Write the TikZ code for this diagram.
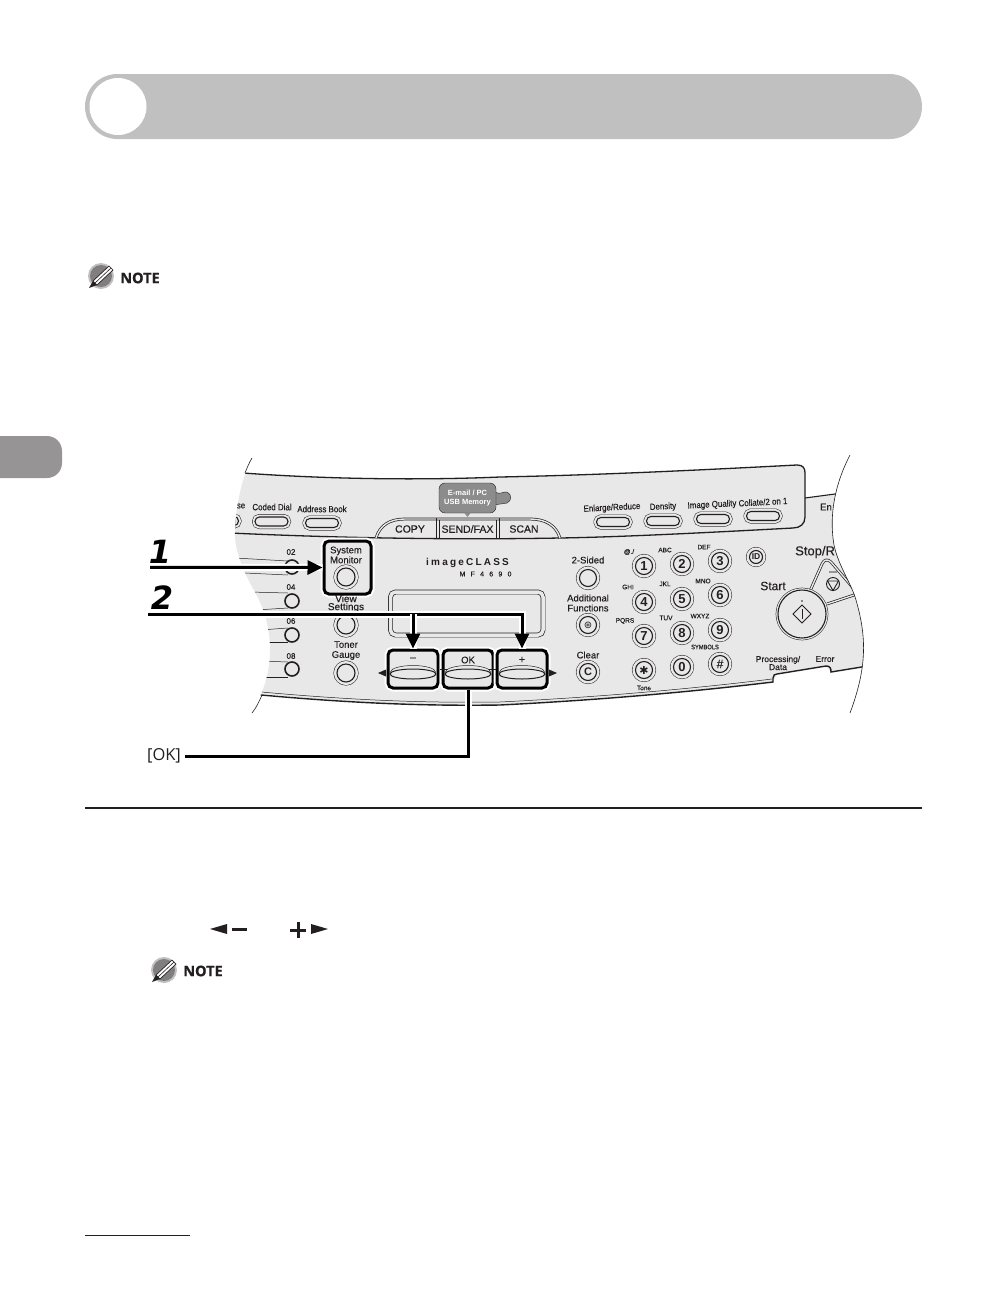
\documentclass[tikz,border=0pt]{standalone}
\usepackage{fontspec}
\setmainfont[FakeBold=0.3,BoldFeatures={FakeBold=0}]{Liberation Sans}
\newfontfamily\stepfont{DejaVu Sans}
\newfontfamily\slimfont[FakeStretch=0.88,FakeBold=0.3]{Liberation Sans}
\newfontfamily\notefont[BoldFeatures={FakeBold=0.5}]{Open Sans}
\newfontfamily\symfont{DejaVu Sans}
\usetikzlibrary{arrows.meta,shapes.geometric}
\definecolor{inkblack}{HTML}{231F20}
\definecolor{panelgray}{HTML}{E8E8E8}
\definecolor{headgray}{HTML}{C0C0C0}
\definecolor{tabgray}{HTML}{969494}
\definecolor{mailgray}{HTML}{8C8C8C}
\tikzset{
  lbl/.style={text=inkblack,inner sep=0pt,align=center,font=\fontsize{9.5}{10}\selectfont},
  slimlbl/.style={text=inkblack,inner sep=0pt,font=\slimfont\fontsize{9}{10}\selectfont},
  tinylbl/.style={text=inkblack,inner sep=0pt,font=\fontsize{6.5}{7}\selectfont},
  ringbase/.style={circle,draw=inkblack,line width=1.1pt,fill=panelgray,inner sep=0pt,minimum size=#1,
    text=inkblack,font=\bfseries\fontsize{13}{13}\selectfont},
  ringkey/.style={ringbase=#1,preaction={draw=inkblack,line width=7pt},preaction={draw=panelgray,line width=6pt}},
  startring/.style={ringbase=48pt,preaction={draw=inkblack,line width=4.6pt},preaction={draw=panelgray,line width=3.6pt}},
  pillkey/.style={rectangle,draw=inkblack,line width=1.1pt,fill=panelgray,rounded corners=4.4pt,
    minimum width=33pt,minimum height=9pt,inner sep=0pt,
    preaction={draw=inkblack,line width=6pt},preaction={draw=panelgray,line width=5pt}},
  bigkey/.style={ellipse,draw=inkblack,line width=1pt,fill=panelgray,inner sep=0pt,minimum width=46pt,minimum height=10pt},
  bigrim/.style={ellipse,draw=inkblack,line width=.5pt,fill=panelgray,inner sep=0pt,minimum width=45pt,minimum height=13pt},
  calloutbox/.style={rectangle,draw=black,line width=3pt,rounded corners=5pt,fill=panelgray,inner sep=0pt,
    preaction={draw=white,line width=7pt}},
  callout/.style={draw=black,line width=3pt,preaction={draw=white,line width=7pt,-}},
  headtip/.style={-{Triangle[length=15pt,width=14pt]}},
  doubleline/.style={draw=inkblack,line width=.7pt,double=panelgray,double distance=1.4pt},
  thinline/.style={draw=inkblack,line width=.8pt},
  noteicon/.pic={
    \fill[headgray] (0,0) circle (13);
    \fill[tabgray!85!black] (0,0) circle (11);
    \fill[white,draw=inkblack,line width=.7pt] (-8,5) -- (8,-10) -- (12,-6) -- (-4,9) -- cycle;
    \draw[inkblack,line width=.6pt] (-6,7) -- (10,-8);
    \fill[inkblack] (-12,12) -- (-8,5) -- (-4,9) -- cycle;
  }
}
\begin{document}
\begin{tikzpicture}[x=1pt,y=-1pt]
    \useasboundingbox (0,0) rectangle (1008,1296);
    \fill[white] (0,0) rectangle (1008,1296);

    % Page furniture
    \fill[tabgray,rounded corners=15pt] (-20,436) rectangle (62,478);
    \fill[headgray,rounded corners=32.5pt] (85,74) rectangle (922,139);
    \fill[white] (118,106.5) circle (28.5);
    \draw[inkblack,line width=1.5pt] (85,808) -- (922,808);
    \draw[inkblack,line width=1pt] (85,1235) -- (190,1235);

    \pic at (101,276) {noteicon};
    \node (noteone) at (140,278) [text=inkblack,font=\notefont\bfseries\fontsize{14.5}{15}\selectfont,inner sep=0pt] {NOTE};
    \pic at (164,970) {noteicon};
    \node (notetwo) at (203,971) [text=inkblack,font=\notefont\bfseries\fontsize{14.5}{15}\selectfont,inner sep=0pt] {NOTE};

    % Key symbols in the step text
    \fill[inkblack] (210,929) -- (227,924) -- (227,934) -- cycle;
    \fill[inkblack] (232,927.7) rectangle (247,930.7);
    \fill[inkblack] (290,928.5) rectangle (306,931.5);
    \fill[inkblack] (296.5,922) rectangle (299.5,938);
    \fill[inkblack] (311,924) -- (328,929) -- (311,934) -- cycle;

    % Panel
    \begin{scope}
    \clip (252,458) .. controls (244,473) and (236,500) .. (235,533)
      .. controls (234,550) and (245,575) .. (255,592)
      .. controls (265,610) and (270,630) .. (270,650)
      .. controls (270,675) and (262,695) .. (252,713)
      -- (850,713) .. controls (868,665) and (866,635) .. (856,600)
      .. controls (852,585) and (838,565) .. (834,545)
      .. controls (828,510) and (838,478) .. (850,455) -- cycle;
    \fill[panelgray] (230,472) .. controls (330,480) and (430,480) .. (500,477)
      .. controls (600,475) and (700,470) .. (797,465)
      .. controls (803,465) and (805,468) .. (805,473) -- (805,498) -- (880,488) -- (880,664)
      -- (831,672) -- (826,666) -- (777,674) -- (773,682)
      .. controls (690,692) and (600,700) .. (500,705)
      .. controls (430,706) and (350,704) .. (230,690) -- cycle;

    % Band outline
    \draw[inkblack,line width=1.3pt] (230,472) .. controls (330,480) and (430,480) .. (500,477)
      .. controls (600,475) and (700,470) .. (797,465)
      .. controls (803,465) and (805,468) .. (805,473) -- (805,517)
      .. controls (805,524) and (800,528) .. (793,528)
      .. controls (700,533) and (620,537) .. (560,538)
      .. controls (450,540) and (340,538) .. (230,533);
    \draw[inkblack,line width=1.1pt] (805,498) -- (880,488);
    \draw[inkblack,line width=1.4pt] (230,692) .. controls (350,704) and (430,706) .. (500,705)
      .. controls (600,700) and (690,692) .. (773,682)
      -- (773,678) .. controls (773,675) and (775,674) .. (777,674)
      -- (826,666) .. controls (830,666) and (831,668) .. (831,672) -- (880,664);
    \draw[inkblack,line width=.5pt] (230,689) .. controls (350,701) and (430,703) .. (500,702)
      .. controls (600,697) and (690,689) .. (772,679);

    % Tabs and e-mail tag
    \draw[doubleline] (376,538) .. controls (380,525) and (390,519) .. (405,519) -- (530,519)
      .. controls (545,519) and (556,525) .. (560,538);
    \draw[thinline] (436.8,518) -- (436.8,538);
    \draw[thinline] (439.4,520) -- (439.4,538);
    \draw[thinline] (496.8,520) -- (496.8,538);
    \draw[thinline] (499.4,518) -- (499.4,538);
    \node (copylbl) at (410,529) [lbl,font=\fontsize{10.5}{11}\selectfont] {COPY};
    \node (sendlbl) at (467.5,529) [lbl,font=\fontsize{10.5}{11}\selectfont] {SEND/FAX};
    \node (scanlbl) at (524,529) [lbl,font=\fontsize{10.5}{11}\selectfont] {SCAN};
    \fill[mailgray,draw=inkblack,line width=.4pt] (494,491) .. controls (500,496) and (503,491) .. (507,492)
      .. controls (512,494) and (512,501) .. (507,503) .. controls (503,504) and (498,504) .. (494,505) -- cycle;
    \node (maillbl) at (467.5,498) [rectangle,fill=mailgray,draw=inkblack,line width=.4pt,rounded corners=6pt,
      minimum width=57pt,minimum height=30pt,inner sep=0pt,align=center,text=white,
      font=\bfseries\fontsize{7.5}{9}\selectfont] {E-mail / PC\\USB Memory};
    \fill[mailgray] (464,512.5) -- (467.5,517) -- (471,512.5) -- cycle;

    % Top row of keys
    \node (selkey) at (222,521) [pillkey] {};
    \node (codedkey) at (271.5,521.5) [pillkey] {};
    \node (addrkey) at (322,523) [pillkey] {};
    \node (enlargekey) at (613,522) [pillkey] {};
    \node (densitykey) at (663,521) [pillkey] {};
    \node (qualitykey) at (713,519) [pillkey] {};
    \node (collatekey) at (763,516) [pillkey] {};
    \node (selbl) at (241,506) [slimlbl] {se};
    \node (codedlbl) at (272,507) [slimlbl] {Coded Dial};
    \node (addrlbl) at (322,509) [slimlbl] {Address Book};
    \node (enlargelbl) at (612,508) [slimlbl,rotate=3] {Enlarge/Reduce};
    \node (densitylbl) at (663,507) [slimlbl,rotate=3] {Density};
    \node (qualitylbl) at (712,505) [slimlbl,rotate=3] {Image Quality};
    \node (collatelbl) at (763,502) [slimlbl,rotate=3] {Collate/2 on 1};
    \node (enlbl) at (820,507) [lbl,anchor=west] {En};

    % Left column
    \draw[inkblack,line width=.5pt] (235,558) -- (288,561);
    \draw[inkblack,line width=.5pt] (245,573) -- (288,575);
    \draw[inkblack,line width=.5pt] (250,592) -- (288,593);
    \draw[inkblack,line width=.5pt] (255,610) -- (288,608);
    \draw[inkblack,line width=.5pt] (260,630) -- (288,628);
    \draw[inkblack,line width=.5pt] (260,642) -- (288,642);
    \draw[inkblack,line width=.5pt] (260,661) -- (288,662);
    \draw[inkblack,line width=.5pt] (260,677) -- (288,677);
    \node (ledtwo) at (292,567) [circle,draw=inkblack,line width=1.6pt,fill=panelgray,minimum size=14pt,inner sep=0pt] {};
    \node (ledfour) at (292,601) [circle,draw=inkblack,line width=1.6pt,fill=panelgray,minimum size=14pt,inner sep=0pt] {};
    \node (ledsix) at (292,635) [circle,draw=inkblack,line width=1.6pt,fill=panelgray,minimum size=14pt,inner sep=0pt] {};
    \node (ledeight) at (292,669) [circle,draw=inkblack,line width=1.6pt,fill=panelgray,minimum size=14pt,inner sep=0pt] {};
    \node (twolbl) at (291,552) [lbl,font=\fontsize{8}{9}\selectfont] {02};
    \node (fourlbl) at (291,587) [lbl,font=\fontsize{8}{9}\selectfont] {04};
    \node (sixlbl) at (291,621) [lbl,font=\fontsize{8}{9}\selectfont] {06};
    \node (eightlbl) at (291,656) [lbl,font=\fontsize{8}{9}\selectfont] {08};

    % Outer rim of the stop key
    \draw[doubleline] (810,591) -- (822,564) .. controls (824,559) and (828,559) .. (831,562) -- (860,596);
    \draw[doubleline] (827,604) -- (860,593);

    % Call-out boxes
    \node (monitorbox) at (347.5,567.5) [calloutbox,minimum width=47pt,minimum height=53pt] {};
    \node (minusbox) at (413,669) [calloutbox,minimum width=50pt,minimum height=38pt] {};
    \node (okbox) at (468,669) [calloutbox,minimum width=50pt,minimum height=38pt] {};
    \node (plusbox) at (522,669) [calloutbox,minimum width=50pt,minimum height=38pt] {};

    % Left column, centre
    \node (monitorlbl) at (346,555) [lbl] {System\\Monitor};
    \node (monitorkey) at (346,577) [ringkey=18pt] {};
    \node (viewlbl) at (346,603.5) [lbl,font=\fontsize{10}{8}\selectfont] {View\\Settings};
    \node (viewkey) at (346,625) [ringkey=18pt] {};
    \node (tonerlbl) at (346,650.5) [lbl] {Toner\\Gauge};
    \node (tonerkey) at (346,673) [ringkey=18pt] {};

    % Logo and display
    \node (logolbl) at (467.5,563) [text=inkblack,inner sep=0pt,font=\bfseries\fontsize{10}{10}\selectfont\addfontfeature{LetterSpace=22}] {imageCLASS};
    \node (modellbl) at (485.5,574) [text=inkblack,inner sep=0pt,font=\fontsize{7}{7}\selectfont\addfontfeature{LetterSpace=75}] {MF4690};
    \draw[doubleline,rounded corners=5pt,double distance=3.5pt] (390.5,592) rectangle (543,635);

    % Arrow keys
    \draw[inkblack,line width=.5pt] (minusbox.east) -- (plusbox.west);
    \node (minusrim) at (413,672) [bigrim] {};
    \node (okrim) at (468,672) [bigrim] {};
    \node (plusrim) at (522,672) [bigrim] {};
    \node (minuskey) at (413,674) [bigkey] {};
    \node (okkey) at (468,674) [bigkey] {};
    \node (pluskey) at (522,674) [bigkey] {};
    \node (minuslbl) at (413,659) [lbl,font=\fontsize{10}{10}\selectfont] {–};
    \node (oklbl) at (468,660) [lbl] {OK};
    \node (pluslbl) at (522,660) [lbl,font=\fontsize{11}{11}\selectfont] {+};
    \fill[inkblack] (378,673) -- (386,669.5) -- (386,676.5) -- cycle;
    \fill[inkblack] (557,673) -- (549,669.5) -- (549,676.5) -- cycle;

    % Middle column
    \node (sidedlbl) at (588,560) [lbl] {2-Sided};
    \node (sidedkey) at (588,578) [ringkey=17pt] {};
    \node (addlbl) at (588,603) [lbl] {Additional\\Functions};
    \node (addkey) at (588,625) [ringkey=17pt,font=\symfont\fontsize{10}{10}\selectfont] {⊛};
    \node (clearlbl) at (588,655) [lbl] {Clear};
    \node (clearkey) at (588,672) [ringkey=17pt,font=\bfseries\fontsize{11}{11}\selectfont] {C};

    % Keypad
    \node (keyone) at (644,566) [ringkey=17pt] {1};
    \node (keytwo) at (682,564) [ringkey=17pt] {2};
    \node (keythree) at (720,561) [ringkey=17pt] {3};
    \node (keyfour) at (644,602) [ringkey=17pt] {4};
    \node (keyfive) at (682,599) [ringkey=17pt] {5};
    \node (keysix) at (720,595) [ringkey=17pt] {6};
    \node (keyseven) at (644,636) [ringkey=17pt] {7};
    \node (keyeight) at (682,633) [ringkey=17pt] {8};
    \node (keynine) at (720,630) [ringkey=17pt] {9};
    \node (keystar) at (644,670) [ringkey=17pt,font=\symfont\fontsize{11}{11}\selectfont] {✱};
    \node (keyzero) at (682,667) [ringkey=17pt] {0};
    \node (keyhash) at (720,664) [ringkey=17pt,font=\fontsize{12}{12}\selectfont] {\#};
    \node (atlbl) at (629,552) [tinylbl] {@./};
    \node (abclbl) at (665,550) [tinylbl] {ABC};
    \node (deflbl) at (704,547) [tinylbl] {DEF};
    \node (ghilbl) at (628,587) [tinylbl] {GHI};
    \node (jkllbl) at (665,584) [tinylbl] {JKL};
    \node (mnolbl) at (703,581) [tinylbl] {MNO};
    \node (pqrslbl) at (625,621) [tinylbl] {PQRS};
    \node (tuvlbl) at (666,618) [tinylbl] {TUV};
    \node (wxyzlbl) at (700,616) [tinylbl] {WXYZ};
    \node (symbolslbl) at (705,647) [tinylbl,font=\slimfont\fontsize{6.5}{7}\selectfont] {SYMBOLS};
    \node (tonelbl) at (644,688) [tinylbl] {Tone};
    \node (idkey) at (756,557) [ringkey=13pt,font=\bfseries\fontsize{8.5}{9}\selectfont] {ID};

    % Start and stop
    \node (stoplbl) at (795,552) [lbl,anchor=west,font=\fontsize{13}{13}\selectfont] {Stop/R};
    \node (startlbl) at (773,586) [lbl,font=\fontsize{12}{12}\selectfont] {Start};
    \node (startkey) at (802,614) [startring] {};
    \draw[inkblack,line width=.8pt] (802,605) -- (811,614) -- (802,623) -- (793,614) -- cycle;
    \draw[inkblack,line width=.8pt] (802,609) -- (802,619);
    \fill[inkblack] (802,601) circle (.9);
    \node (stopkey) at (833,584) [circle,draw=inkblack,line width=.9pt,minimum size=13pt,inner sep=0pt] {};
    \draw[inkblack,line width=.9pt] (827.5,581) -- (838.5,581) -- (833,590.5) -- cycle;
    \fill[tabgray] (829,571) rectangle (837,573);
    \node (proclbl) at (778,663) [lbl,font=\fontsize{8.5}{8}\selectfont] {Processing/\\Data};
    \node (errlbl) at (825,659) [lbl,font=\fontsize{8.5}{8}\selectfont] {Error};
    \end{scope}

    % Outline of the cut-out
    \draw[inkblack,line width=.6pt] (252,458) .. controls (249,463) and (247,468) .. (245,473);
    \draw[inkblack,line width=.6pt] (262,695) .. controls (259,702) and (256,708) .. (252,713);
    \draw[inkblack,line width=.6pt] (850,455) .. controls (838,478) and (828,510) .. (834,545)
      .. controls (838,565) and (852,585) .. (856,600)
      .. controls (866,635) and (868,665) .. (850,713);

    % Call-outs
    \node (stepone) at (160,551.5) [inner sep=0pt,text=black,font=\stepfont\bfseries\itshape\fontsize{32}{32}\selectfont] {1};
    \node (steptwo) at (162,598) [inner sep=0pt,text=black,font=\stepfont\bfseries\itshape\fontsize{32}{32}\selectfont] {2};
    \coordinate (startone) at (150,567.3);
    \coordinate (starttwo) at (148,614.3);
    \draw[callout,headtip] (startone) -- (monitorbox.west);
    \draw[callout,headtip] (starttwo) -- (starttwo -| plusbox.north) -- (plusbox.north);
    \draw[callout,headtip] (starttwo -| minusbox.north) -- (minusbox.north);
    \node (okcallout) at (164,756) [text=inkblack,inner sep=0pt,font=\notefont\fontsize{16.5}{17}\selectfont] {[OK]};
    \draw[callout] ([xshift=4pt]okcallout.east) -| (okbox.south);
\end{tikzpicture}
\end{document}
